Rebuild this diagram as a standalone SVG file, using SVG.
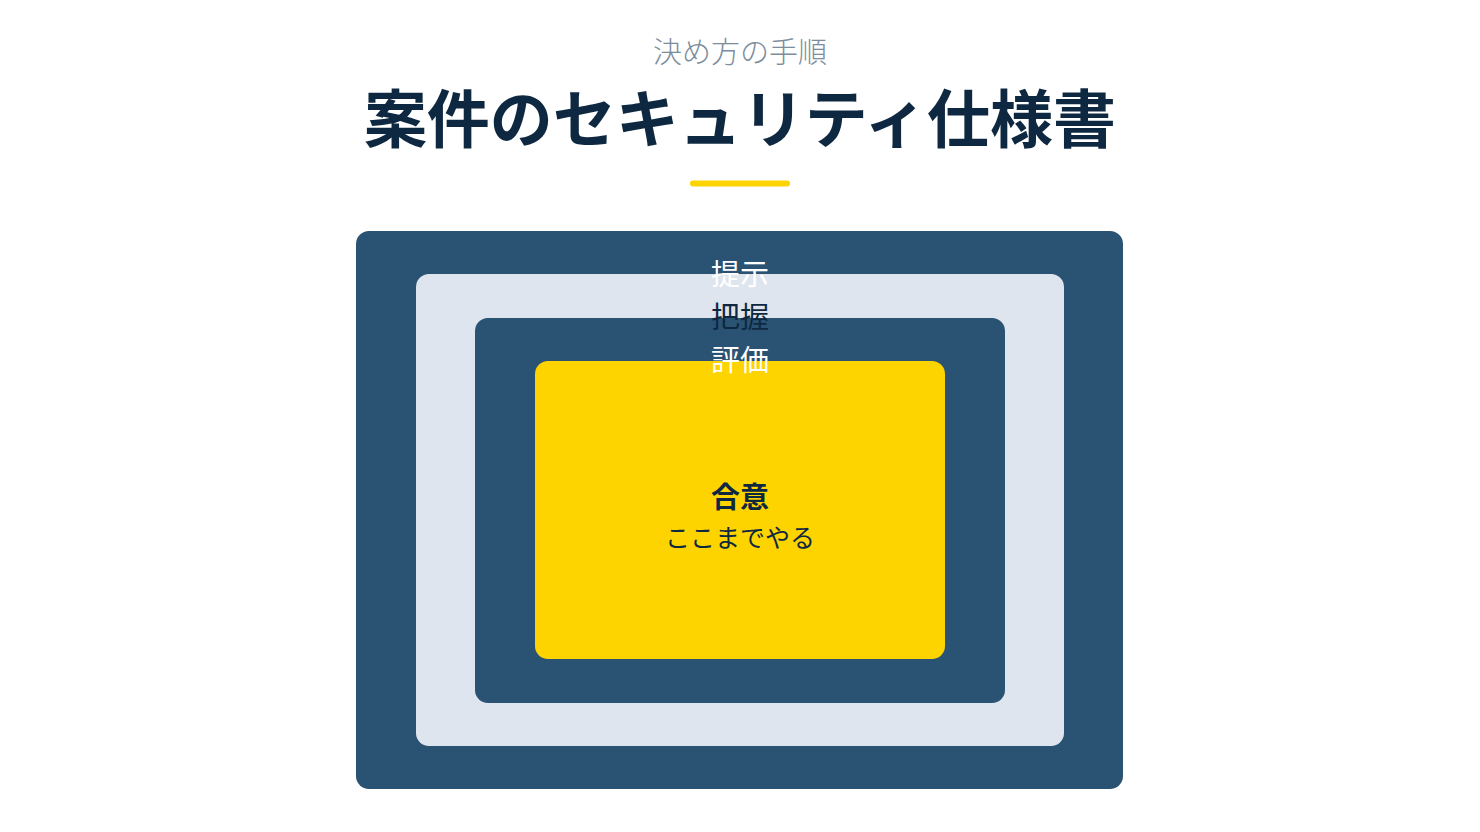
<svg xmlns="http://www.w3.org/2000/svg" width="1480" height="832" viewBox="0 0 1480 832">
<style>
text{font-family:"Noto Sans CJK JP","Noto Sans",sans-serif;text-anchor:middle}
.sub{font-size:29px;font-weight:300;fill:#7d8d9c}
.title{font-size:63px;font-weight:700;fill:#0d2840}
.lbl{font-size:29px}
.w{fill:#ffffff}
.d{fill:#0d2840}
.dark{fill:#2a5272}
.light{fill:#dfe5ee}
.yel{fill:#fdd400}
</style>
<rect width="1480" height="832" fill="#ffffff"/>
<g id="header">
<text class="sub" x="740" y="63">決め方の手順</text>
<text class="title" x="740" y="142">案件のセキュリティ仕様書</text>
<rect x="690" y="180.5" width="100" height="6" rx="3" class="yel"/>
</g>
<g id="layer-teiji">
<rect x="356" y="231" width="767" height="558" rx="13" class="dark"/>
</g>
<g id="layer-haaku">
<rect x="416" y="274" width="648" height="472" rx="13" class="light"/>
</g>
<g id="layer-hyouka">
<rect x="475" y="318" width="530" height="385" rx="13" class="dark"/>
</g>
<g id="layer-goui">
<rect x="535" y="361" width="410" height="298" rx="13" class="yel"/>
<text x="740" y="508" style="font-size:29px;font-weight:700" class="d">合意</text>
<text x="740" y="547" style="font-size:25px" class="d">ここまでやる</text>
</g>
<g id="labels">
<text class="lbl w" x="740" y="285">提示</text>
<text class="lbl d" x="740" y="328">把握</text>
<text class="lbl w" x="740" y="371">評価</text>
</g>
<g id="connectors"></g>
</svg>
